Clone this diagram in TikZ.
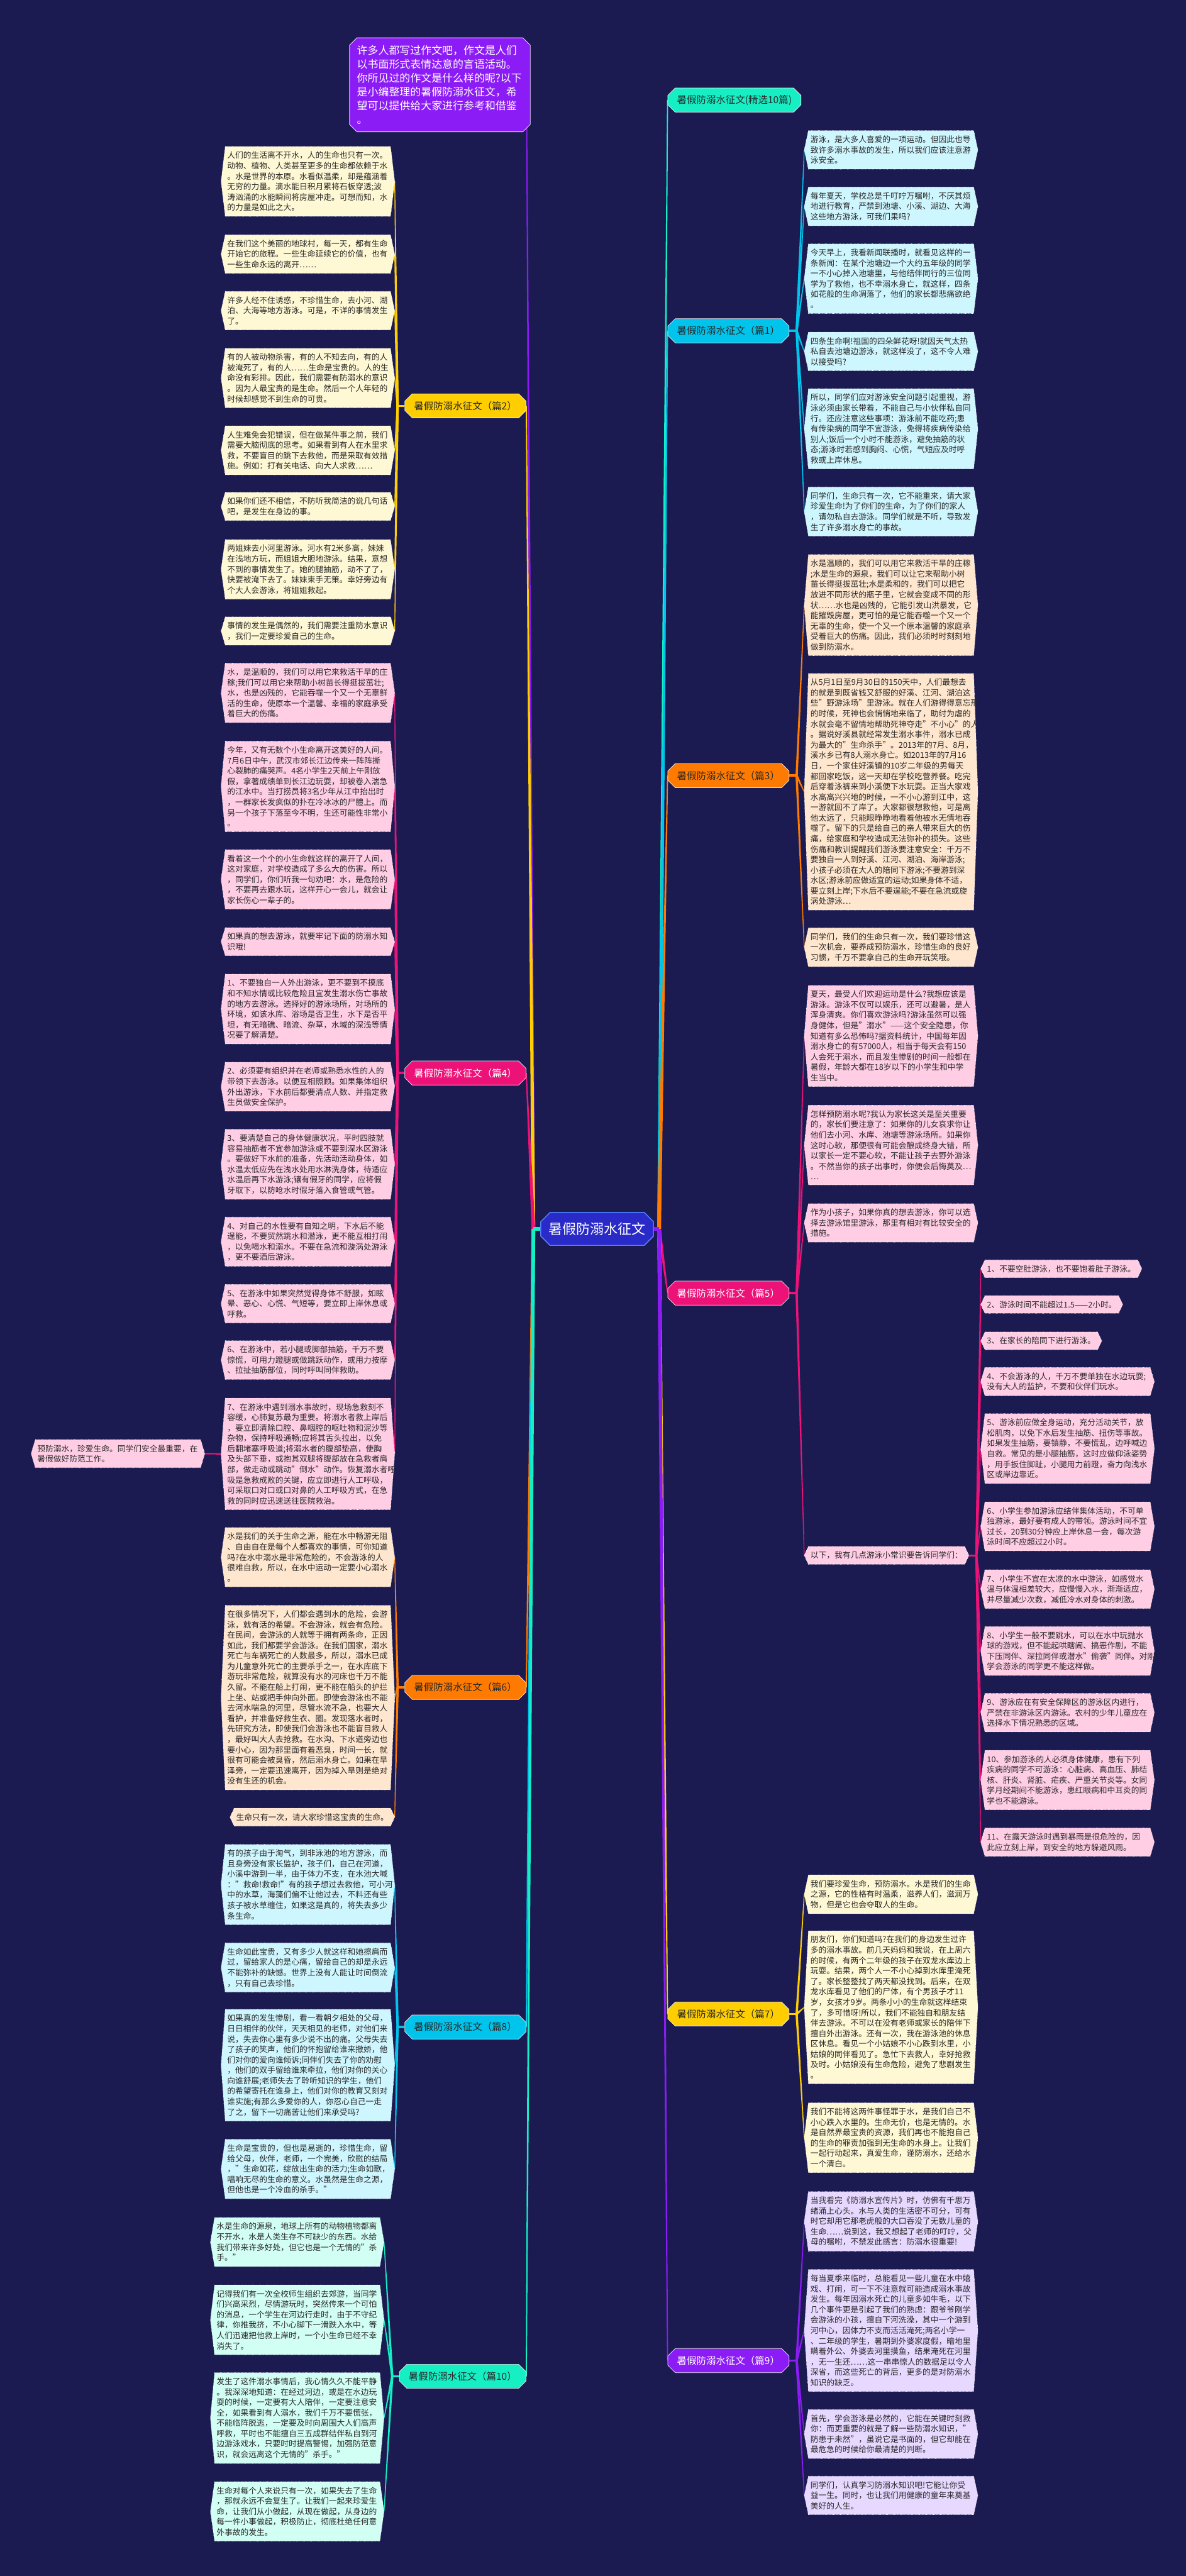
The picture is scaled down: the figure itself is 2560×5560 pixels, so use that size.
\documentclass[tikz,border=0pt]{standalone}
\usepackage{fontspec}
\setmainfont{Noto Sans CJK SC}
\usetikzlibrary{calc,shapes.misc}
\pgfdeclarelayer{back}\pgfdeclarelayer{conn}\pgfdeclarelayer{bg}
\pgfsetlayers{back,conn,bg,main}
\definecolor{bgc}{RGB}{27,27,82}
\definecolor{cPurple}{RGB}{140,28,245}
\definecolor{cAqua}{RGB}{22,238,196}
\definecolor{cCyan}{RGB}{0,196,236}
\definecolor{cGold}{RGB}{255,206,0}
\definecolor{cOrange}{RGB}{255,122,0}
\definecolor{cPink}{RGB}{236,18,120}
\definecolor{fCream}{RGB}{255,248,212}
\definecolor{fCyan}{RGB}{206,246,255}
\definecolor{fPeach}{RGB}{255,230,206}
\definecolor{fPink}{RGB}{255,206,228}
\definecolor{fLav}{RGB}{230,216,255}
\definecolor{fMint}{RGB}{210,255,244}
\definecolor{cCenter}{RGB}{42,42,200}
\definecolor{cCenterB}{RGB}{80,130,245}
\definecolor{txt}{RGB}{40,40,40}
\tikzset{
 leafbox/.style={text width=174pt, align=left, inner xsep=2pt, inner ysep=5.3pt, text=txt, font=\fontsize{8.65pt}{11.25pt}\selectfont},
 leafone/.style={inner xsep=2pt, inner ysep=5.3pt, text=txt, font=\fontsize{8.65pt}{11.25pt}\selectfont},
 branch/.style={chamfered rectangle, chamfered rectangle xsep=4pt, chamfered rectangle ysep=4pt, draw=white!85!gray, line width=0.5pt, minimum height=26pt, inner xsep=6pt, font=\fontsize{10.5pt}{12pt}\selectfont},
 dk/.style={text=txt},
 wt/.style={text=white},
}
\newcommand\leaf[6][leafbox]{%
 \node[#1,anchor=#3] (#2) at (#4) {#6};
 \coordinate (#2-e) at ([xshift=4.5pt]#2.east);
 \coordinate (#2-w) at ([xshift=-4.5pt]#2.west);
 \begin{pgfonlayer}{bg}
 \filldraw[fill=#5,draw=white,densely dotted,line width=0.5pt] (#2.north west) -- (#2.north east) -- (#2-e) -- (#2.south east) -- (#2.south west) -- (#2-w) -- cycle;
 \end{pgfonlayer}}
\newcommand\taper[5]{\fill[#1] ($(#2)!#4!90:(#3)$) -- ($(#3)!#5!-90:(#2)$) -- ($(#3)!#5!90:(#2)$) -- ($(#2)!#4!-90:(#3)$) -- cycle;}
\begin{document}
\begin{tikzpicture}[x=0.5pt,y=-0.5pt]
\begin{pgfonlayer}{back}
\fill[bgc] (0,0) rectangle (2560,5560);
\end{pgfonlayer}
\useasboundingbox (0,0) rectangle (2560,5560);

% center and intro
\node[chamfered rectangle, chamfered rectangle xsep=5pt, chamfered rectangle ysep=5pt, fill=cCenter, draw=cCenterB, line width=1pt, text=white, font=\fontsize{15pt}{17pt}\selectfont, minimum width=120.5pt, minimum height=35.5pt] (center) at (1289,2652.5) {暑假防溺水征文};
\coordinate (cL) at ([xshift=-7.5pt]center.west);
\coordinate (cR) at ([xshift=5.5pt]center.east);
\node[chamfered rectangle, chamfered rectangle xsep=4pt, chamfered rectangle ysep=4pt, fill=cPurple, draw=white!80!cPurple, line width=0.6pt, text=white, text width=179pt, align=left, inner sep=4pt, font=\fontsize{11.5pt}{15pt}\selectfont, anchor=south east] (intro) at (1137,277) {许多人都写过作文吧，作文是人们\\以书面形式表情达意的言语活动。\\你所见过的作文是什么样的呢?以下\\是小编整理的暑假防溺水征文，希\\望可以提供给大家进行参考和借鉴\\。};

% branches
\node[branch, fill=cGold, dk, anchor=east] (b2) at (1136,876) {暑假防溺水征文（篇2）};
\node[branch, fill=cPink, wt, anchor=east] (b4) at (1136,2316) {暑假防溺水征文（篇4）};
\node[branch, fill=cOrange, dk, anchor=east] (b6) at (1136,3642) {暑假防溺水征文（篇6）};
\node[branch, fill=cCyan, dk, anchor=east] (b8) at (1136,4375) {暑假防溺水征文（篇8）};
\node[branch, fill=cAqua, dk, anchor=east] (b10) at (1136,5129) {暑假防溺水征文（篇10）};
\node[branch, fill=cAqua, dk, anchor=west] (b0) at (1441,216) {暑假防溺水征文(精选10篇)};
\node[branch, fill=cCyan, dk, anchor=west] (b1) at (1441,714) {暑假防溺水征文（篇1）};
\node[branch, fill=cOrange, dk, anchor=west] (b3) at (1441,1674) {暑假防溺水征文（篇3）};
\node[branch, fill=cPink, wt, anchor=west] (b5) at (1441,2791) {暑假防溺水征文（篇5）};
\node[branch, fill=cGold, dk, anchor=west] (b7) at (1441,4347) {暑假防溺水征文（篇7）};
\node[branch, fill=cPurple, wt, anchor=west] (b9) at (1441,5095) {暑假防溺水征文（篇9）};
\foreach \b in {2,4,6,8,10} {\coordinate (j\b) at ([xshift=-7.5pt]b\b.west);}
\foreach \b in {1,3,5,7,9} {\coordinate (j\b) at ([xshift=8pt]b\b.east);}

% ---- 篇2
\leaf{l2a}{east}{843,391.5}{fCream}{人们的生活离不开水，人的生命也只有一次。\\动物、植物、人类甚至更多的生命都依赖于水\\。水是世界的本原。水看似温柔，却是蕴涵着\\无穷的力量。滴水能日积月累将石板穿透;波\\涛汹涌的水能瞬间将房屋冲走。可想而知，水\\的力量是如此之大。}
\leaf{l2b}{east}{843,548.5}{fCream}{在我们这个美丽的地球村，每一天，都有生命\\开始它的旅程。一些生命延续它的价值，也有\\一些生命永远的离开……}
\leaf{l2c}{east}{843,670.5}{fCream}{许多人经不住诱惑，不珍惜生命，去小河、湖\\泊、大海等地方游泳。可是，不详的事情发生\\了。}
\leaf{l2d}{east}{843,816}{fCream}{有的人被动物杀害，有的人不知去向，有的人\\被淹死了，有的人……生命是宝贵的。人的生\\命没有彩排。因此，我们需要有防溺水的意识\\。因为人最宝贵的是生命。然后一个人年轻的\\时候却感觉不到生命的可贵。}
\leaf{l2e}{east}{843,972}{fCream}{人生难免会犯错误，但在做某件事之前，我们\\需要大脑彻底的思考。如果看到有人在水里求\\救，不要盲目的跳下去救他，而是采取有效措\\施。例如：打有关电话、向大人求救……}
\leaf{l2f}{east}{843,1093}{fCream}{如果你们还不相信，不防听我简洁的说几句话\\吧，是发生在身边的事。}
\leaf{l2g}{east}{843,1229}{fCream}{两姐妹去小河里游泳。河水有2米多高，妹妹\\在浅地方玩，而姐姐大胆地游泳。结果，意想\\不到的事情发生了。她的腿抽筋，动不了了，\\快要被淹下去了。妹妹束手无策。幸好旁边有\\个大人会游泳，将姐姐救起。}
\leaf{l2h}{east}{843,1362}{fCream}{事情的发生是偶然的，我们需要注重防水意识\\，我们一定要珍爱自己的生命。}

% ---- 篇4
\leaf{l4a}{east}{843,1495.5}{fPink}{水，是温顺的，我们可以用它来救活干旱的庄\\稼;我们可以用它来帮助小树苗长得挺拔茁壮;\\水，也是凶残的，它能吞噬一个又一个无辜鲜\\活的生命，使原本一个温馨、幸福的家庭承受\\着巨大的伤痛。}
\leaf{l4b}{east}{843,1697.5}{fPink}{今年，又有无数个小生命离开这美好的人间。\\7月6日中午，武汉市郊长江边传来一阵阵撕\\心裂肺的痛哭声。4名小学生2天前上午刚放\\假，拿著成绩单到长江边玩耍，却被卷入湍急\\的江水中。当打捞员将3名少年从江中抬出时\\，一群家长发疯似的扑在冷冰冰的尸體上。而\\另一个孩子下落至今不明，生还可能性非常小\\。}
\leaf{l4c}{east}{843,1898}{fPink}{看着这一个个的小生命就这样的离开了人间，\\这对家庭，对学校造成了多么大的伤害。所以\\，同学们，你们听我一句劝吧：水，是危险的\\，不要再去跟水玩，这样开心一会儿，就会让\\家长伤心一辈子的。}
\leaf{l4d}{east}{843,2032.5}{fPink}{如果真的想去游泳，就要牢记下面的防溺水知\\识哦!}
\leaf{l4e}{east}{843,2178}{fPink}{1、不要独自一人外出游泳，更不要到不摸底\\和不知水情或比较危险且宜发生溺水伤亡事故\\的地方去游泳。选择好的游泳场所，对场所的\\环境，如该水库、浴场是否卫生，水下是否平\\坦，有无暗礁、暗流、杂草，水域的深浅等情\\况要了解清楚。}
\leaf{l4f}{east}{843,2345.5}{fPink}{2、必须要有组织并在老师或熟悉水性的人的\\带领下去游泳。以便互相照顾。如果集体组织\\外出游泳，下水前后都要清点人数、并指定救\\生员做安全保护。}
\leaf{l4g}{east}{843,2513}{fPink}{3、要清楚自己的身体健康状况，平时四肢就\\容易抽筋者不宜参加游泳或不要到深水区游泳\\。要做好下水前的准备，先活动活动身体，如\\水温太低应先在浅水处用水淋洗身体，待适应\\水温后再下水游泳;镶有假牙的同学，应将假\\牙取下，以防呛水时假牙落入食管或气管。}
\leaf{l4h}{east}{843,2680}{fPink}{4、对自己的水性要有自知之明，下水后不能\\逞能，不要贸然跳水和潜泳，更不能互相打闹\\，以免喝水和溺水。不要在急流和漩涡处游泳\\，更不要酒后游泳。}
\leaf{l4i}{east}{843,2814}{fPink}{5、在游泳中如果突然觉得身体不舒服，如眩\\晕、恶心、心慌、气短等，要立即上岸休息或\\呼救。}
\leaf{l4j}{east}{843,2935.5}{fPink}{6、在游泳中，若小腿或脚部抽筋，千万不要\\惊慌，可用力蹬腿或做跳跃动作，或用力按摩\\、拉扯抽筋部位，同时呼叫同伴救助。}
\leaf{l4k}{east}{843,3138}{fPink}{7、在游泳中遇到溺水事故时，现场急救刻不\\容缓，心肺复苏最为重要。将溺水者救上岸后\\，要立即清除口腔、鼻咽腔的呕吐物和泥沙等\\杂物，保持呼吸通畅;应将其舌头拉出，以免\\后翻堵塞呼吸道;将溺水者的腹部垫高，使胸\\及头部下垂，或抱其双腿将腹部放在急救者肩\\部，做走动或跳动"倒水"动作。恢复溺水者呼\\吸是急救成败的关键，应立即进行人工呼吸，\\可采取口对口或口对鼻的人工呼吸方式，在急\\救的同时应迅速送往医院救治。}
\leaf{l4x}{east}{433,3137.5}{fPink}{预防溺水，珍爱生命。同学们安全最重要，在\\暑假做好防范工作。}

% ---- 篇6
\leaf{l6a}{east}{843,3361}{fPeach}{水是我们的关于生命之源，能在水中畅游无阻\\、自由自在是每个人都喜欢的事情，可你知道\\吗?在水中溺水是非常危险的，不会游泳的人\\很难自救，所以，在水中运动一定要小心溺水\\。}
\leaf{l6b}{east}{843,3664}{fPeach}{在很多情况下，人们都会遇到水的危险，会游\\泳，就有活的希望。不会游泳，就会有危险。\\在民间，会游泳的人就等于拥有两条命，正因\\如此，我们都要学会游泳。在我们国家，溺水\\死亡与车祸死亡的人数最多，所以，溺水已成\\为儿童意外死亡的主要杀手之一，在水库底下\\游玩非常危险，就算没有水的河床也千万不能\\久留。不能在船上打闹，更不能在船头的护拦\\上坐、站或把手伸向外面。即使会游泳也不能\\去河水喘急的河里，尽管水流不急，也要大人\\看护，并准备好救生衣、圈。发现落水者时，\\先研究方法，即使我们会游泳也不能盲目救人\\，最好叫大人去抢救。在水沟、下水道旁边也\\要小心，因为那里面有着恶臭，时间一长，就\\很有可能会被臭昏，然后溺水身亡。如果在旱\\泽旁，一定要迅速离开，因为掉入旱则是绝对\\没有生还的机会。}
\leaf[leafone]{l6c}{east}{843,3922}{fPeach}{生命只有一次，请大家珍惜这宝贵的生命。}

% ---- 篇8
\leaf{l8a}{east}{843,4067.5}{fCyan}{有的孩子由于淘气，到非泳池的地方游泳，而\\且身旁没有家长监护，孩子们，自己在河道，\\小溪中游到一半，由于体力不支，在水池大喊\\："救命!救命!"有的孩子想过去救他，可小河\\中的水草，海藻们偏不让他过去，不料还有些\\孩子被水草缠住，如果这是真的，将失去多少\\条生命。}
\leaf{l8b}{east}{843,4246.5}{fCyan}{生命如此宝贵，又有多少人就这样和她擦肩而\\过，留给家人的是心痛，留给自己的却是永远\\不能弥补的缺憾。世界上没有人能让时间倒流\\，只有自己去珍惜。}
\leaf{l8c}{east}{843,4457.5}{fCyan}{如果真的发生惨剧，看一看朝夕相处的父母，\\日日相伴的伙伴，天天相见的老师，对他们来\\说，失去你心里有多少说不出的痛。父母失去\\了孩子的笑声，他们的怀抱留给谁来撒娇，他\\们对你的爱向谁倾诉;同伴们失去了你的劝慰\\，他们的双手留给谁来牵拉，他们对你的关心\\向谁舒展;老师失去了聆听知识的学生，他们\\的希望寄托在谁身上，他们对你的教育又刻对\\谁实施;有那么多爱你的人，你忍心自己一走\\了之，留下一切痛苦让他们来承受吗?}
\leaf{l8d}{east}{843,4681.5}{fCyan}{生命是宝贵的，但也是易逝的，珍惜生命，留\\给父母，伙伴，老师，一个完美，欣慰的结局\\，"生命如花，绽放出生命的活力;生命如歌，\\唱响无尽的生命的意义。水虽然是生命之源，\\但他也是一个冷血的杀手。"}

% ---- 篇10
\leaf{l10a}{east}{820,4839}{fMint}{水是生命的源泉，地球上所有的动物植物都离\\不开水，水是人类生存不可缺少的东西。水给\\我们带来许多好处，但它也是一个无情的"杀\\手。"}
\leaf{l10b}{east}{820,5007}{fMint}{记得我们有一次全校师生组织去郊游，当同学\\们兴高采烈，尽情游玩时，突然传来一个可怕\\的消息，一个学生在河边行走时，由于不守纪\\律，你推我挤，不小心脚下一滑跌入水中，等\\人们迅速把他救上岸时，一个小生命已经不幸\\消失了。}
\leaf{l10c}{east}{820,5219}{fMint}{发生了这件溺水事情后，我心情久久不能平静\\。我深深地知道：在经过河边，或是在水边玩\\耍的时候，一定要有大人陪伴，一定要注意安\\全，如果看到有人溺水，我们千万不要慌张，\\不能临阵脱逃，一定要及时向周围大人们高声\\呼救，平时也不能擅自三五成群结伴私自到河\\边游泳戏水，只要时时提高警惕，加强防范意\\识，就会远离这个无情的"杀手。"}
\leaf{l10d}{east}{820,5420.5}{fMint}{生命对每个人来说只有一次，如果失去了生命\\，那就永远不会复生了。让我们一起来珍爱生\\命，让我们从小做起，从现在做起，从身边的\\每一件小事做起，积极防止，彻底杜绝任何意\\外事故的发生。}

% ---- 篇1
\leaf{l1a}{west}{1745,323.5}{fCyan}{游泳，是大多人喜爱的一项运动。但因此也导\\致许多溺水事故的发生，所以我们应该注意游\\泳安全。}
\leaf{l1b}{west}{1745,445.5}{fCyan}{每年夏天，学校总是千叮咛万嘱咐，不厌其烦\\地进行教育，严禁到池塘、小溪、湖边、大海\\这些地方游泳，可我们果吗?}
\leaf{l1c}{west}{1745,601.5}{fCyan}{今天早上，我看新闻联播时，就看见这样的一\\条新闻：在某个池塘边一个大约五年级的同学\\一不小心掉入池塘里，与他结伴同行的三位同\\学为了救他，也不幸溺水身亡，就这样，四条\\如花般的生命凋落了，他们的家长都悲痛欲绝\\。}
\leaf{l1d}{west}{1745,758.5}{fCyan}{四条生命啊!祖国的四朵鲜花呀!就因天气太热\\私自去池塘边游泳，就这样没了，这不令人难\\以接受吗?}
\leaf{l1e}{west}{1745,925.5}{fCyan}{所以，同学们应对游泳安全问题引起重视，游\\泳必须由家长带着，不能自己与小伙伴私自同\\行。还应注意这些事项：游泳前不能吃药;患\\有传染病的同学不宜游泳，免得将疾病传染给\\别人;饭后一个小时不能游泳，避免抽筋的状\\态;游泳时若感到胸闷、心慌，气短应及时呼\\救或上岸休息。}
\leaf{l1f}{west}{1745,1104}{fCyan}{同学们，生命只有一次，它不能重来，请大家\\珍爱生命!为了你们的生命，为了你们的家人\\，请勿私自去游泳。同学们就是不听，导致发\\生了许多溺水身亡的事故。}

% ---- 篇3
\leaf{l3a}{west}{1745,1306}{fPeach}{水是温顺的，我们可以用它来救活干旱的庄稼\\;水是生命的源泉，我们可以让它来帮助小树\\苗长得挺拔茁壮;水是柔和的，我们可以把它\\放进不同形状的瓶子里，它就会变成不同的形\\状……水也是凶残的，它能引发山洪暴发，它\\能摧毁房屋，更可怕的是它能吞噬一个又一个\\无辜的生命，使一个又一个原本温馨的家庭承\\受着巨大的伤痛。因此，我们必须时时刻刻地\\做到防溺水。}
\leaf{l3b}{west}{1745,1709}{fPeach}{从5月1日至9月30日的150天中，人们最想去\\的就是到既省钱又舒服的好溪、江河、湖泊这\\些"野游泳场"里游泳。就在人们游得得意忘形\\的时候，死神也会悄悄地来临了，助纣为虐的\\水就会毫不留情地帮助死神夺走"不小心"的人\\。据说好溪县就经常发生溺水事件，溺水已成\\为最大的"生命杀手"。2013年的7月、8月，\\溪水乡已有8人溺水身亡。如2013年的7月16\\日，一个家住好溪镇的10岁二年级的男每天\\都回家吃饭，这一天却在学校吃营养餐。吃完\\后穿着泳裤来到小溪便下水玩耍。正当大家戏\\水高高兴兴地的时候，一不小心游到江中，这\\一游就回不了岸了。大家都很想救他，可是离\\他太远了，只能眼睁睁地看着他被水无情地吞\\噬了。留下的只是给自己的亲人带来巨大的伤\\痛，给家庭和学校造成无法弥补的损失。这些\\伤痛和教训提醒我们游泳要注意安全：千万不\\要独自一人到好溪、江河、湖泊、海岸游泳;\\小孩子必须在大人的陪同下游泳;不要游到深\\水区;游泳前应做适宜的运动;如果身体不适，\\要立刻上岸;下水后不要逞能;不要在急流或旋\\涡处游泳…}
\leaf{l3c}{west}{1745,2044.5}{fPeach}{同学们，我们的生命只有一次，我们要珍惜这\\一次机会，要养成预防溺水，珍惜生命的良好\\习惯，千万不要拿自己的生命开玩笑哦。}

% ---- 篇5
\leaf{l5a}{west}{1745,2236}{fPink}{夏天，最受人们欢迎运动是什么?我想应该是\\游泳。游泳不仅可以娱乐，还可以避暑，是人\\浑身清爽。你们喜欢游泳吗?游泳虽然可以强\\身健体，但是"溺水"——这个安全隐患，你\\知道有多么恐怖吗?据资料统计，中国每年因\\溺水身亡的有57000人，相当于每天会有150\\人会死于溺水，而且发生惨剧的时间一般都在\\暑假，年龄大都在18岁以下的小学生和中学\\生当中。}
\leaf{l5b}{west}{1745,2471.5}{fPink}{怎样预防溺水呢?我认为家长这关是至关重要\\的，家长们要注意了：如果你的儿女哀求你让\\他们去小河、水库、池塘等游泳场所。如果你\\这时心软，那便很有可能会酿成终身大错，所\\以家长一定不要心软，不能让孩子去野外游泳\\。不然当你的孩子出事时，你便会后悔莫及…\\…}
\leaf{l5c}{west}{1745,2639.5}{fPink}{作为小孩子，如果你真的想去游泳，你可以选\\择去游泳馆里游泳，那里有相对有比较安全的\\措施。}
\leaf[leafone]{l5d}{west}{1745,3357}{fPink}{以下，我有几点游泳小常识要告诉同学们：}
\coordinate (js) at ([xshift=8pt]l5d-e);
\leaf[leafone]{s1}{west}{2126,2738.5}{fPink}{1、不要空肚游泳，也不要饱着肚子游泳。}
\leaf[leafone]{s2}{west}{2126,2815.5}{fPink}{2、游泳时间不能超过1.5——2小时。}
\leaf[leafone]{s3}{west}{2126,2894}{fPink}{3、在家长的陪同下进行游泳。}
\leaf{s4}{west}{2126,2982}{fPink}{4、不会游泳的人，千万不要单独在水边玩耍;\\没有大人的监护，不要和伙伴们玩水。}
\leaf{s5}{west}{2126,3126.5}{fPink}{5、游泳前应做全身运动，充分活动关节，放\\松肌肉，以免下水后发生抽筋、扭伤等事故。\\如果发生抽筋，要镇静，不要慌乱，边呼喊边\\自救。常见的是小腿抽筋，这时应做仰泳姿势\\，用手扳住脚趾，小腿用力前蹬，奋力向浅水\\区或岸边靠近。}
\leaf{s6}{west}{2126,3294.5}{fPink}{6、小学生参加游泳应结伴集体活动，不可单\\独游泳，最好要有成人的带领。游泳时间不宜\\过长，20到30分钟应上岸休息一会，每次游\\泳时间不应超过2小时。}
\leaf{s7}{west}{2126,3430}{fPink}{7、小学生不宜在太凉的水中游泳，如感觉水\\温与体温相差较大，应慢慢入水，渐渐适应，\\并尽量减少次数，减低冷水对身体的刺激。}
\leaf{s8}{west}{2126,3563.5}{fPink}{8、小学生一般不要跳水，可以在水中玩抛水\\球的游戏，但不能起哄瞎闹、搞恶作剧，不能\\下压同伴、深拉同伴或潜水"偷袭"同伴。对刚\\学会游泳的同学更不能这样做。}
\leaf{s9}{west}{2126,3696.5}{fPink}{9、游泳应在有安全保障区的游泳区内进行，\\严禁在非游泳区内游泳。农村的少年儿童应在\\选择水下情况熟悉的区域。}
\leaf{s10}{west}{2126,3842}{fPink}{10、参加游泳的人必须身体健康，患有下列\\疾病的同学不可游泳：心脏病、高血压、肺结\\核、肝炎、肾脏、疟疾、严重关节炎等。女同\\学月经期间不能游泳，患红眼病和中耳炎的同\\学也不能游泳。}
\leaf{s11}{west}{2126,3976}{fPink}{11、在露天游泳时遇到暴雨是很危险的，因\\此应立刻上岸，到安全的地方躲避风雨。}

% ---- 篇7
\leaf{l7a}{west}{1745,4088.5}{fCream}{我们要珍爱生命，预防溺水。水是我们的生命\\之源，它的性格有时温柔，滋养人们，滋润万\\物，但是它也会夺取人的生命。}
\leaf{l7b}{west}{1745,4332.5}{fCream}{朋友们，你们知道吗?在我们的身边发生过许\\多的溺水事故。前几天妈妈和我说，在上周六\\的时候，有两个二年级的孩子在双龙水库边上\\玩耍。结果，两个人一不小心掉到水库里淹死\\了。家长整整找了两天都没找到。后来，在双\\龙水库看见了他们的尸体，有个男孩子才11\\岁，女孩才9岁。两条小小的生命就这样结束\\了，多可惜呀!所以，我们不能独自和朋友结\\伴去游泳。不可以在没有老师或家长的陪伴下\\擅自外出游泳。还有一次，我在游泳池的休息\\区休息。看见一个小姑娘不小心跌到水里，小\\姑娘的同伴看见了。急忙下去救人，幸好抢救\\及时。小姑娘没有生命危险，避免了悲剧发生\\。}
\leaf{l7c}{west}{1745,4614}{fCream}{我们不能将这两件事怪罪于水，是我们自己不\\小心跌入水里的。生命无价，也是无情的。水\\是自然界最宝贵的资源，我们再也不能抱自己\\的生命的罪责加强到无生命的水身上。让我们\\一起行动起来，真爱生命，谨防溺水，还给水\\一个清白。}

% ---- 篇9
\leaf{l9a}{west}{1745,4794.5}{fLav}{当我看完《防溺水宣传片》时，仿佛有千思万\\绪涌上心头。水与人类的生活密不可分，可有\\时它却用它那老虎般的大口吞没了无数儿童的\\生命……说到这，我又想起了老师的叮咛，父\\母的嘱咐，不禁发此感言：防溺水很重要!}
\leaf{l9b}{west}{1745,5030}{fLav}{每当夏季来临时，总能看见一些儿童在水中嬉\\戏、打闹，可一下不注意就可能造成溺水事故\\发生。每年因溺水死亡的儿童多如牛毛，以下\\几个事件更是引起了我们的熟虑：跟爷爷刚学\\会游泳的小孩，擅自下河洗澡，其中一个游到\\河中心，因体力不支而活活淹死;两名小学一\\、二年级的学生，暑期到外婆家度假，暗地里\\瞒着外公、外婆去河里摸鱼，结果淹死在河里\\，无一生还……这一串串惊人的数据足以令人\\深省，而这些死亡的背后，更多的是对防溺水\\知识的缺乏。}
\leaf{l9c}{west}{1745,5253.5}{fLav}{首先，学会游泳是必然的，它能在关键时刻救\\你：而更重要的就是了解一些防溺水知识，"\\防患于未然"，虽说它是书面的，但它却能在\\最危急的时候给你最清楚的判断。}
\leaf{l9d}{west}{1745,5386}{fLav}{同学们，认真学习防溺水知识吧!它能让你受\\益一生。同时，也让我们用健康的童年来奠基\\美好的人生。}

% ---- connectors
\begin{pgfonlayer}{conn}
% center to branches
\taper{cPurple}{cL}{intro.south east}{2pt}{0.6pt}
\taper{cGold}{cL}{b2.east}{2pt}{0.6pt}
\taper{cPink}{cL}{b4.east}{2pt}{0.6pt}
\taper{cOrange}{cL}{b6.east}{2pt}{0.6pt}
\taper{cCyan}{cL}{b8.east}{2pt}{0.6pt}
\taper{cAqua}{cL}{b10.east}{2pt}{0.6pt}
\draw[cAqua,line width=4pt] (center.west) -- (cL);
\taper{cAqua}{cR}{b0.west}{2pt}{0.6pt}
\taper{cCyan}{cR}{b1.west}{2pt}{0.6pt}
\taper{cOrange}{cR}{b3.west}{2pt}{0.6pt}
\taper{cPink}{cR}{b5.west}{2pt}{0.6pt}
\taper{cGold}{cR}{b7.west}{2pt}{0.6pt}
\taper{cPurple}{cR}{b9.west}{2pt}{0.6pt}
\draw[cPurple,line width=4pt] (center.east) -- (cR);
% branch stubs
\draw[cGold,line width=2.5pt] (b2.west) -- (j2);
\draw[cPink,line width=2.5pt] (b4.west) -- (j4);
\draw[cOrange,line width=2.5pt] (b6.west) -- (j6);
\draw[cCyan,line width=2.5pt] (b8.west) -- (j8);
\draw[cAqua,line width=2.5pt] (b10.west) -- (j10);
\draw[cCyan,line width=2.5pt] (b1.east) -- (j1);
\draw[cOrange,line width=2.5pt] (b3.east) -- (j3);
\draw[cPink,line width=2.5pt] (b5.east) -- (j5);
\draw[cGold,line width=2.5pt] (b7.east) -- (j7);
\draw[cPurple,line width=2.5pt] (b9.east) -- (j9);
% branch to leaves
\foreach \l in {l2a,l2b,l2c,l2d,l2e,l2f,l2g,l2h} {\taper{cGold}{j2}{\l-e}{1.25pt}{0.4pt}}
\foreach \l in {l4a,l4b,l4c,l4d,l4e,l4f,l4g,l4h,l4i,l4j,l4k} {\taper{cPink}{j4}{\l-e}{1.25pt}{0.4pt}}
\foreach \l in {l6a,l6b,l6c} {\taper{cOrange}{j6}{\l-e}{1.25pt}{0.4pt}}
\foreach \l in {l8a,l8b,l8c,l8d} {\taper{cCyan}{j8}{\l-e}{1.25pt}{0.4pt}}
\foreach \l in {l10a,l10b,l10c,l10d} {\taper{cAqua}{j10}{\l-e}{1.25pt}{0.4pt}}
\foreach \l in {l1a,l1b,l1c,l1d,l1e,l1f} {\taper{cCyan}{j1}{\l-w}{1.25pt}{0.4pt}}
\foreach \l in {l3a,l3b,l3c} {\taper{cOrange}{j3}{\l-w}{1.25pt}{0.4pt}}
\foreach \l in {l5a,l5b,l5c,l5d} {\taper{cPink}{j5}{\l-w}{1.25pt}{0.4pt}}
\foreach \l in {l7a,l7b,l7c} {\taper{cGold}{j7}{\l-w}{1.25pt}{0.4pt}}
\foreach \l in {l9a,l9b,l9c,l9d} {\taper{cPurple}{j9}{\l-w}{1.25pt}{0.4pt}}
\draw[cPink,line width=2pt] (l5d-e) -- (js);
\foreach \l in {s1,s2,s3,s4,s5,s6,s7,s8,s9,s10,s11} {\taper{cPink}{js}{\l-w}{1.1pt}{0.4pt}}
\draw[cPink,line width=1.5pt] (l4k-w) -- (l4x-e);
\end{pgfonlayer}
\end{tikzpicture}
\end{document}
